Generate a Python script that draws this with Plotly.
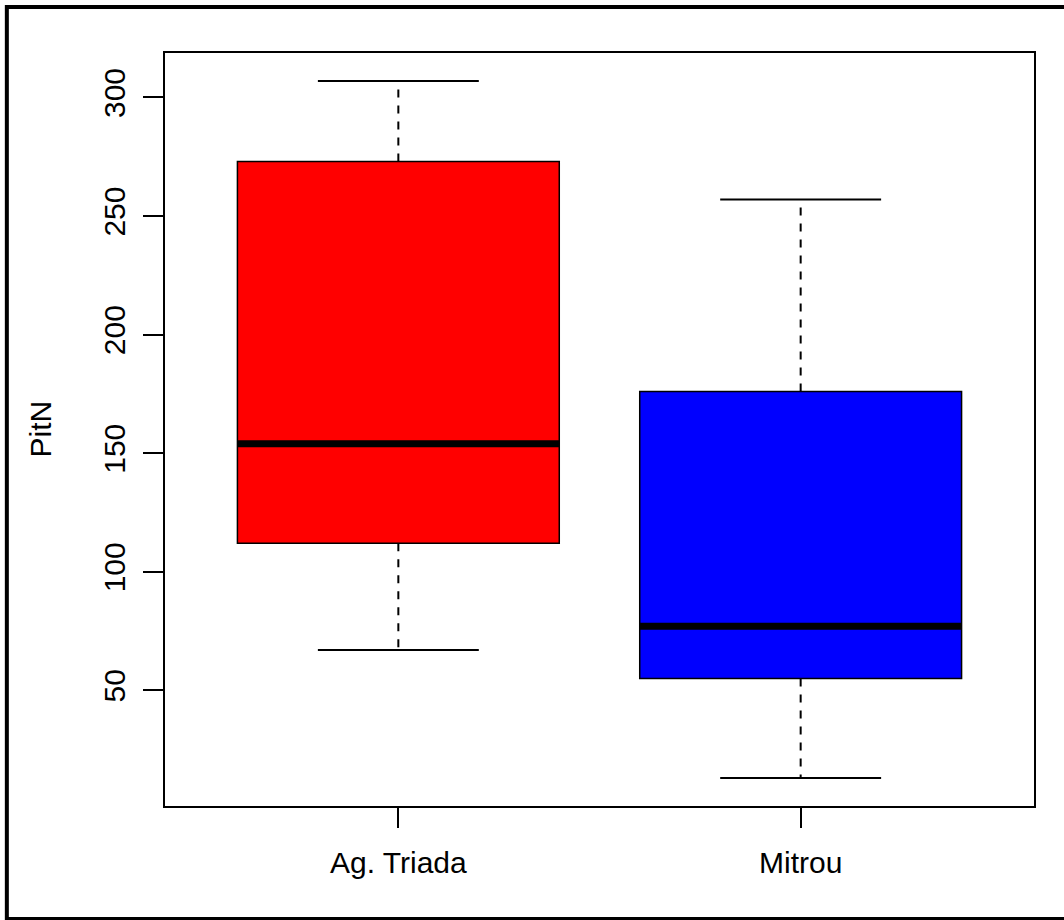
import plotly.graph_objects as go

# Five-number summaries of PitN per site
sites = ["Ag. Triada", "Mitrou"]
positions = [1, 2]
lower_whisker = [67, 13]
q1 = [112, 55]
median = [154, 77]
q3 = [273, 176]
upper_whisker = [307, 257]
fill_colors = ["#FF0000", "#0000FF"]
y_ticks = [50, 100, 150, 200, 250, 300]

BOX_W = 0.8
CAP_W = 0.4
FONT = "Liberation Sans, Arial, Helvetica, sans-serif"

fig = go.Figure()

for i, x in enumerate(positions):
    # box from Q1 to Q3
    fig.add_trace(go.Bar(
        x=[x], y=[q3[i] - q1[i]], base=[q1[i]], width=BOX_W,
        marker=dict(color=fill_colors[i], line=dict(color="black", width=1.5)),
        hoverinfo="skip", showlegend=False,
    ))
    # dashed whiskers
    for a, b in ((q3[i], upper_whisker[i]), (q1[i], lower_whisker[i])):
        fig.add_trace(go.Scatter(
            x=[x, x], y=[a, b], mode="lines",
            line=dict(color="black", width=2, dash="8px,8px"),
            hoverinfo="skip", showlegend=False,
        ))
    # whisker caps
    for v in (upper_whisker[i], lower_whisker[i]):
        fig.add_trace(go.Scatter(
            x=[x - CAP_W / 2, x + CAP_W / 2], y=[v, v], mode="lines",
            line=dict(color="black", width=2),
            hoverinfo="skip", showlegend=False,
        ))
    # median bar
    fig.add_trace(go.Scatter(
        x=[x - BOX_W / 2, x + BOX_W / 2], y=[median[i], median[i]], mode="lines",
        line=dict(color="black", width=7),
        hoverinfo="skip", showlegend=False,
    ))

lo = min(lower_whisker)
hi = max(upper_whisker)
pad = 0.04 * (hi - lo)

fig.update_layout(
    width=1064, height=920,
    margin=dict(l=165, r=30, t=53, b=114),
    paper_bgcolor="white", plot_bgcolor="white",
    font=dict(family=FONT, size=30, color="black"),
    xaxis=dict(
        range=[0.42, 2.58], tickmode="array", tickvals=positions, ticktext=sites,
        showgrid=False, zeroline=False, showline=True, mirror=True,
        linecolor="black", linewidth=2, ticks="outside", ticklen=20,
        tickwidth=2, tickcolor="black", ticklabelstandoff=9,
    ),
    yaxis=dict(
        range=[lo - pad, hi + pad], tickmode="array", tickvals=y_ticks,
        showgrid=False, zeroline=False, showline=True, mirror=True,
        linecolor="black", linewidth=2, ticks="outside", ticklen=20,
        tickwidth=2, tickcolor="black", tickangle=-90, ticklabelstandoff=6,
    ),
    annotations=[dict(
        text="PitN", xref="paper", yref="paper", x=(40 - 165) / 869, y=0.5,
        textangle=-90, showarrow=False, font=dict(size=30),
        xanchor="center", yanchor="middle",
    )],
    shapes=[dict(
        type="rect", xref="paper", yref="paper",
        x0=-0.182, x1=1.04, y0=-0.150, y1=1.061,
        line=dict(color="black", width=4), fillcolor="rgba(0,0,0,0)",
    )],
)

fig.write_html("out.html")
